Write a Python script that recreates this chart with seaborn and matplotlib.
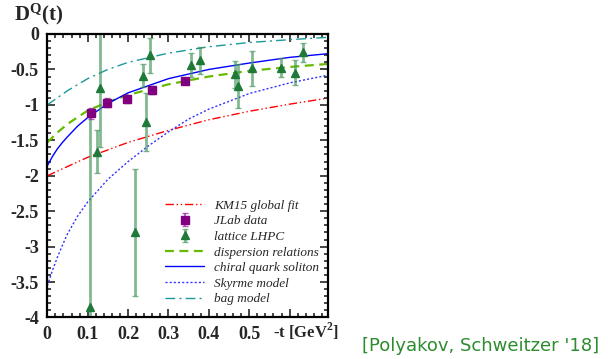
import numpy as np
import pandas as pd
import matplotlib
matplotlib.use("Agg")
from matplotlib import pyplot as plt
from matplotlib.ticker import MultipleLocator
import seaborn as sns

sns.set_theme(style="ticks")
plt.rcParams['font.family'] = ['Liberation Serif', 'DejaVu Serif']
plt.rcParams['mathtext.fontset'] = 'custom'
plt.rcParams['mathtext.rm'] = 'Liberation Serif'
plt.rcParams['mathtext.bf'] = 'Liberation Serif:bold'

# model curves, -t in GeV^2 vs D^Q(t)
t_km15 = [0, 0.1, 0.2, 0.3, 0.4, 0.5, 0.6, 0.7]
d_km15 = [-2.0, -1.74, -1.53, -1.36, -1.21, -1.09, -0.99, -0.90]

t_disp = [0, 0.025, 0.05, 0.1, 0.15, 0.2, 0.3, 0.4, 0.5, 0.6, 0.7]
d_disp = [-1.53, -1.39, -1.27, -1.08, -0.96, -0.86, -0.71, -0.60, -0.52, -0.465, -0.42]

t_chqsm = [0, 0.0125, 0.025, 0.0375, 0.05, 0.075, 0.1, 0.15, 0.2, 0.3, 0.4, 0.5, 0.6, 0.7]
d_chqsm = [-1.86, -1.73, -1.62, -1.53, -1.45, -1.30, -1.18, -0.98, -0.83, -0.63, -0.50, -0.41, -0.33, -0.275]

t_skyrme = [0, 0.0125, 0.025, 0.0375, 0.05, 0.075, 0.1, 0.15, 0.2, 0.25, 0.3, 0.35, 0.4, 0.5, 0.6, 0.7]
d_skyrme = [-3.55, -3.34, -3.15, -2.98, -2.82, -2.57, -2.37, -2.05, -1.80, -1.58, -1.38, -1.20, -1.06, -0.84, -0.69, -0.575]

t_bag = [0, 0.025, 0.05, 0.1, 0.15, 0.2, 0.3, 0.4, 0.5, 0.6, 0.7]
d_bag = [-1.0, -0.90, -0.80, -0.63, -0.50, -0.40, -0.27, -0.18, -0.12, -0.08, -0.045]

# data points
t_jlab = [0.108, 0.148, 0.198, 0.260, 0.341]
d_jlab = [-1.12, -0.97, -0.92, -0.79, -0.66]
e_jlab = [0.075, 0.06, 0.05, 0.05, 0.04]

t_lhpc = [0.106, 0.123, 0.1305, 0.218, 0.237, 0.2435, 0.2535, 0.357, 0.378, 0.464, 0.472, 0.508, 0.578, 0.613, 0.632]
d_lhpc = [-3.85, -1.66, -0.76, -2.80, -0.59, -1.24, -0.30, -0.44, -0.37, -0.57, -0.74, -0.485, -0.475, -0.545, -0.26]
e_lhpc = [2.68, 0.30, 0.83, 0.89, 0.16, 0.41, 0.25, 0.165, 0.19, 0.195, 0.31, 0.25, 0.135, 0.175, 0.135]

xtick_vals = [0, 0.1, 0.2, 0.3, 0.4, 0.5, 0.6]
xtick_labels = ["0", "0.1", "0.2", "0.3", "0.4", "0.5", ""]
ytick_vals = [0, -0.5, -1, -1.5, -2, -2.5, -3, -3.5, -4]
ytick_labels = ["0", "-0.5", "-1", "-1.5", "-2", "-2.5", "-3", "-3.5", "-4"]

fig = plt.figure(figsize=(6.08, 3.59), dpi=100)
ax = fig.add_axes([0.0778, 0.1156, 0.4617, 0.7897])

sns.lineplot(x=t_km15, y=d_km15, ax=ax, color="#ff0000", lw=1,
             linestyle=(0, (6, 2, 1, 2, 1, 2)), label="KM15 global fit")
sns.lineplot(x=t_disp, y=d_disp, ax=ax, color="#66bb00", lw=1.6,
             linestyle=(0, (4, 2.5)), label="dispersion relations")
sns.lineplot(x=t_chqsm, y=d_chqsm, ax=ax, color="#0000ff", lw=1,
             label="chiral quark soliton")
sns.lineplot(x=t_skyrme, y=d_skyrme, ax=ax, color="#3333ff", lw=1,
             linestyle=(0, (1.5, 1.5)), label="Skyrme model")
sns.lineplot(x=t_bag, y=d_bag, ax=ax, color="#1a9999", lw=1,
             linestyle=(0, (7, 3, 1.5, 3)), label="bag model")

ax.errorbar(t_lhpc, d_lhpc, yerr=e_lhpc, fmt="^", color="#1f7a3a", ms=6,
            ecolor=(0.25, 0.58, 0.35, 0.65), elinewidth=2, capsize=2,
            label="lattice LHPC")
ax.errorbar(t_jlab, d_jlab, yerr=e_jlab, fmt="s", color="#800080", ms=6,
            ecolor=(0.6, 0.2, 0.6, 0.8), elinewidth=1.2, capsize=2,
            label="JLab data")

ax.set_xlim(0, 0.695)
ax.set_ylim(-4, 0)
ax.set_xticks(xtick_vals)
ax.set_xticklabels(xtick_labels)
ax.set_yticks(ytick_vals)
ax.set_yticklabels(ytick_labels)
ax.xaxis.set_minor_locator(MultipleLocator(0.02))
ax.yaxis.set_minor_locator(MultipleLocator(0.1))
ax.tick_params(which="both", direction="in", top=True, right=True, width=1.2)
ax.tick_params(which="major", length=6, labelsize=13, pad=6)
ax.tick_params(which="minor", length=3)
for lab in ax.get_xticklabels() + ax.get_yticklabels():
    lab.set_fontweight("bold")
for sp in ax.spines.values():
    sp.set_linewidth(1.6)
    sp.set_color("black")
ax.set_xlabel("")
ax.set_ylabel("")

fig.text(14 / 608, 1 - 2 / 359, r"$\mathbf{D^{Q}(t)}$", fontsize=15,
         ha="left", va="top")
fig.text(306 / 608, 1 - 331 / 359, r"-t [GeV$^{\mathbf{2}}$]", fontsize=12,
         fontweight="bold", ha="center", va="center")
fig.text(362 / 608, 1 - 346 / 359, "[Polyakov, Schweitzer '18]",
         fontsize=13, family="DejaVu Sans", color="#2e8b2e",
         ha="left", va="center")

order = ["KM15 global fit", "JLab data", "lattice LHPC", "dispersion relations",
         "chiral quark soliton", "Skyrme model", "bag model"]
handles, labels = ax.get_legend_handles_labels()
hmap = dict(zip(labels, handles))
ax.legend([hmap[k] for k in order], order, loc="lower left",
          bbox_to_anchor=(0.40, 0.025), frameon=False,
          prop={"family": "Liberation Serif", "style": "italic", "size": 9.5},
          handlelength=3.0, handletextpad=0.7, labelspacing=0.25,
          borderaxespad=0)

plt.savefig("out.png", dpi=100)
